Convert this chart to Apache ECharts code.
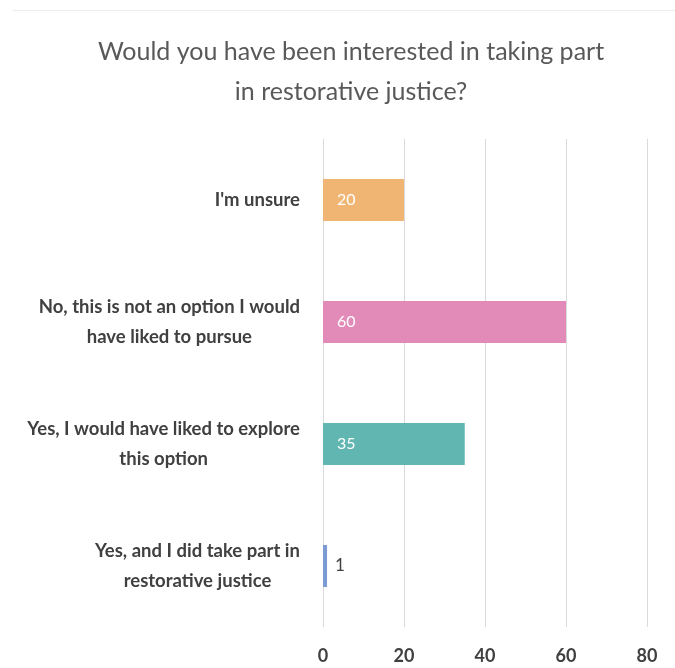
<!DOCTYPE html>
<html>
<head>
<meta charset="utf-8">
<script src="https://cdn.jsdelivr.net/npm/echarts@6/dist/echarts.min.js"></script>
<style>
  html, body { margin: 0; padding: 0; background: #ffffff; }
  #chart { width: 675px; height: 668px; }
</style>
</head>
<body>
<div id="chart"></div>
<script>
// Survey answers, top to bottom
const categories = [
  "I'm unsure",
  "No, this is not an option I would\nhave liked to pursue",
  "Yes, I would have liked to explore\nthis option",
  "Yes, and I did take part in\nrestorative justice"
];
const responses = [20, 60, 35, 1];
const barColors = ['#F0B572', '#E28BB9', '#62B6B2', '#7D9BD3'];
const xTicks = [0, 20, 40, 60, 80];

const chart = echarts.init(document.getElementById('chart'), null, { renderer: 'canvas' });

// short bars carry their value outside, longer ones inside in white
const seriesData = responses.map((v, i) => {
  const small = v < 5;
  return {
    value: v,
    itemStyle: { color: barColors[i] },
    label: {
      show: true,
      fontFamily: 'Lato',
      fontSize: small ? 17 : 16,
      position: small ? 'right' : 'insideLeft',
      distance: small ? 8 : 14,
      color: small ? '#404040' : '#ffffff'
    }
  };
});

chart.setOption({
  animation: false,
  backgroundColor: '#ffffff',
  title: {
    text: 'Would you have been interested in taking part\nin restorative justice?',
    left: 346,
    textAlign: 'center',
    top: 27,
    textStyle: {
      fontFamily: 'Lato',
      fontWeight: 'normal',
      fontSize: 25,
      lineHeight: 40,
      color: '#595959'
    }
  },
  graphic: [{
    type: 'line',
    shape: { x1: 13, y1: 10.5, x2: 675, y2: 10.5 },
    style: { stroke: '#ececec', lineWidth: 1 },
    silent: true
  }],
  grid: { left: 323, right: 28, top: 139, bottom: 41, containLabel: false },
  xAxis: {
    type: 'value',
    min: xTicks[0],
    max: xTicks[xTicks.length - 1],
    interval: xTicks[1] - xTicks[0],
    axisLine: { show: false },
    axisTick: { show: false },
    splitLine: { show: true, lineStyle: { color: '#d9d9d9', width: 1 } },
    axisLabel: {
      margin: 20,
      fontFamily: 'Lato',
      fontWeight: 'bold',
      fontSize: 18,
      color: '#404040'
    }
  },
  yAxis: {
    type: 'category',
    inverse: true,
    data: categories,
    axisLine: { show: false },
    axisTick: { show: false },
    splitLine: { show: false },
    axisLabel: {
      margin: 23,
      align: 'right',
      formatter: function (v) {
        return v.split('\n').map(s => '{c|' + s + '}').join('\n');
      },
      rich: {
        c: {
          align: 'center',
          fontFamily: 'Lato',
          fontWeight: 'bold',
          fontSize: 18.5,
          lineHeight: 30,
          color: '#404040'
        }
      }
    }
  },
  series: [{
    type: 'bar',
    data: seriesData,
    barWidth: 42
  }]
});
</script>
</body>
</html>
